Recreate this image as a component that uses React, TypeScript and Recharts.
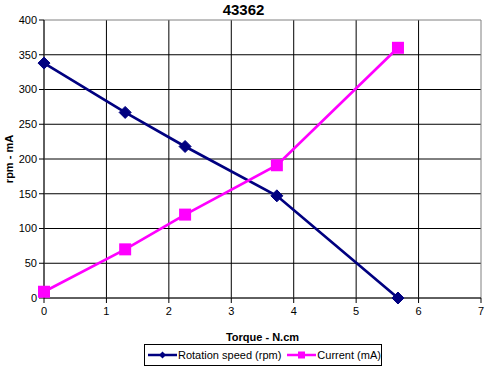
import React from 'react';
import {
  LineChart,
  Line,
  XAxis,
  YAxis,
  CartesianGrid,
  ReferenceArea,
} from 'recharts';

const torque = [0, 1.3, 2.26, 3.73, 5.67];
const speedRpm = [338, 267, 218, 147, 0];
const currentMa = [9, 70, 120, 191, 360];
const xTicks = [0, 1, 2, 3, 4, 5, 6, 7];
const yTicks = [0, 50, 100, 150, 200, 250, 300, 350, 400];

const data = torque.map((t, i) => ({ torque: t, speed: speedRpm[i], current: currentMa[i] }));

const FONT = '"Liberation Sans", Arial, sans-serif';
const NAVY = '#000080';
const MAGENTA = '#FF00FF';

const Diamond = (props: any) => {
  const { cx, cy } = props;
  if (cx == null || cy == null) return null;
  const r = 6;
  return (
    <path
      d={`M${cx},${cy - r}L${cx + r},${cy}L${cx},${cy + r}L${cx - r},${cy}Z`}
      fill={NAVY}
      stroke={NAVY}
    />
  );
};

const Square = (props: any) => {
  const { cx, cy } = props;
  if (cx == null || cy == null) return null;
  const r = 6;
  return <rect x={cx - r} y={cy - r} width={r * 2} height={r * 2} fill={MAGENTA} />;
};

const YLabel = (props: any) => {
  const vb = props.viewBox || {};
  const y = (vb.y ?? 20) + (vb.height ?? 278) / 2;
  return (
    <text
      x={9}
      y={y}
      transform={`rotate(-90, 9, ${y})`}
      textAnchor="middle"
      dominantBaseline="central"
      fontFamily={FONT}
      fontSize={11}
      fontWeight="bold"
      fill="#000"
    >
      rpm - mA
    </text>
  );
};

export default function App() {
  const tickStyle = { fontFamily: FONT, fontSize: 11, fill: '#000' };
  return (
    <div style={{ position: 'absolute', left: 0, top: 0, width: 487, height: 368, background: '#fff' }}>
      <div
        style={{
          position: 'absolute',
          left: 0,
          top: 0,
          width: 487,
          textAlign: 'center',
          fontFamily: FONT,
          fontSize: 15,
          fontWeight: 'bold',
          lineHeight: '20px',
        }}
      >
        43362
      </div>
      <LineChart
        width={487}
        height={368}
        data={data}
        margin={{ top: 20, right: 6, left: 0, bottom: 27 }}
      >
        <CartesianGrid
          stroke="#000"
          strokeOpacity={1}
          horizontalValues={[50, 100, 150, 200, 250, 300, 350]}
          verticalValues={[1, 2, 3, 4, 5, 6]}
        />
        <ReferenceArea x1={0} x2={7} y1={0} y2={400} fill="none" stroke="#808080" strokeWidth={1} ifOverflow="visible" />
        <XAxis
          dataKey="torque"
          type="number"
          domain={[0, 7]}
          ticks={xTicks}
          interval={0}
          height={43}
          stroke="#000"
          tickSize={5}
          tickMargin={4}
          tick={tickStyle}
          label={{
            value: 'Torque - N.cm',
            position: 'insideBottom',
            offset: 0,
            style: { fontFamily: FONT, fontSize: 11, fontWeight: 'bold', fill: '#000' },
          }}
        />
        <YAxis
          type="number"
          domain={[0, 400]}
          ticks={yTicks}
          interval={0}
          width={44}
          stroke="#000"
          tickSize={5}
          tickMargin={2}
          tick={tickStyle}
          label={<YLabel />}
        />
        <Line
          type="linear"
          dataKey="speed"
          stroke={NAVY}
          strokeWidth={2.7}
          dot={<Diamond />}
          isAnimationActive={false}
        />
        <Line
          type="linear"
          dataKey="current"
          stroke={MAGENTA}
          strokeWidth={2.7}
          dot={<Square />}
          isAnimationActive={false}
        />
      </LineChart>
      <div
        style={{
          position: 'absolute',
          left: 144,
          top: 344,
          width: 236,
          height: 20,
          border: '1px solid #000',
          display: 'flex',
          alignItems: 'center',
          fontFamily: FONT,
          fontSize: 11,
          boxSizing: 'content-box',
        }}
      >
        <svg width={29} height={12} style={{ marginLeft: 3 }}>
          <line x1={0} y1={6} x2={29} y2={6} stroke={NAVY} strokeWidth={2.5} />
          <path d="M14.5,2.5L18,6L14.5,9.5L11,6Z" fill={NAVY} />
        </svg>
        <span style={{ marginLeft: 1 }}>Rotation speed (rpm)</span>
        <svg width={29} height={12} style={{ marginLeft: 6 }}>
          <line x1={0} y1={6} x2={29} y2={6} stroke={MAGENTA} strokeWidth={2.5} />
          <rect x={11} y={2.5} width={7} height={7} fill={MAGENTA} />
        </svg>
        <span style={{ marginLeft: 1 }}>Current (mA)</span>
      </div>
    </div>
  );
}
